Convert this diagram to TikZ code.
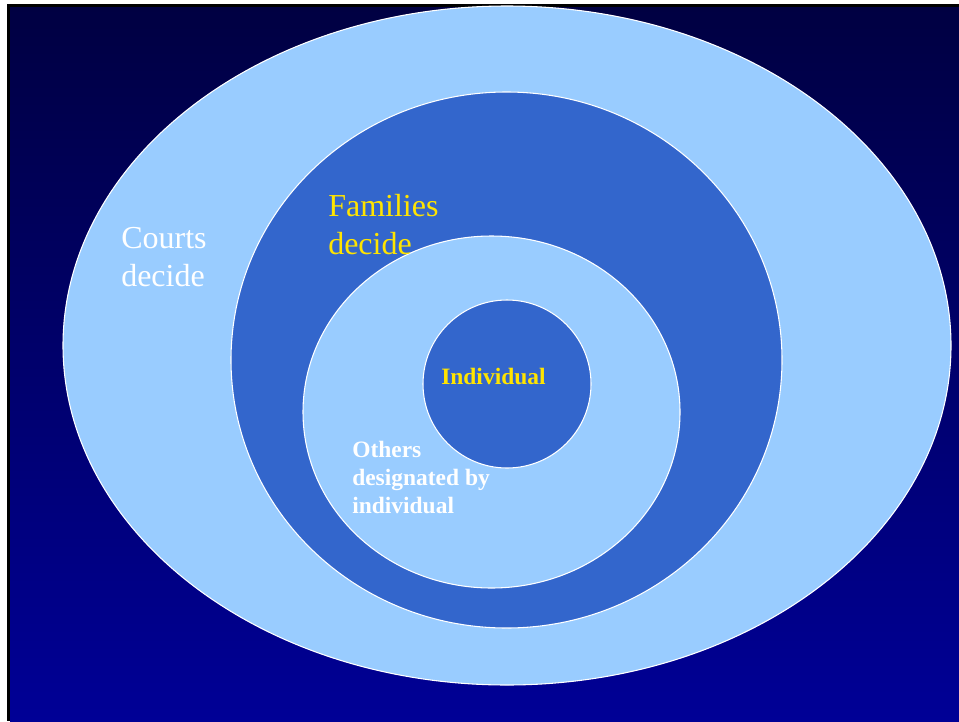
\documentclass[tikz,border=0pt]{standalone}
\usepackage{fontspec}
\setmainfont{Liberation Serif}
\definecolor{navytop}{RGB}{0,0,66}
\definecolor{navybot}{RGB}{0,0,150}
\definecolor{lightring}{RGB}{153,204,255}
\definecolor{darkring}{RGB}{51,102,204}
\definecolor{goldtext}{RGB}{255,228,0}
\tikzset{
  ring/.style={draw=white, line width=0.8pt},
  % multi-line labels: the base anchor sits on the last line's baseline
  biglabel/.style={anchor=base west, inner sep=0pt, align=left,
    font=\fontsize{24}{28.5}\selectfont},
  smalllabel/.style={anchor=base west, inner sep=0pt, align=left,
    font=\fontsize{17.6}{21}\selectfont\bfseries},
}
\begin{document}
\begin{tikzpicture}[x=0.75pt, y=-0.75pt]
  \useasboundingbox (0,0) rectangle (959,721);
  \fill[white] (0,0) rectangle (959,721);
  % frame and shaded backdrop
  \fill[black] (7,4) rectangle (959,721);
  \shade[top color=navytop, bottom color=navybot] (10,7) rectangle (959,721);
  % nested regions, outermost first
  \filldraw[ring, fill=lightring] (507,345.5) ellipse [x radius=444, y radius=339.5];
  \filldraw[ring, fill=darkring] (506.5,360) ellipse [x radius=275.5, y radius=268];
  \filldraw[ring, fill=lightring] (491.5,412) ellipse [x radius=188.5, y radius=176];
  \filldraw[ring, fill=darkring] (507,384) circle [radius=84];
  % labels
  \node[biglabel, text=white] (courts) at (121,286) {Courts\\decide};
  \node[biglabel, text=goldtext] (families) at (328,254) {Families\\decide};
  \node[smalllabel, text=goldtext] (indiv) at (441,384) {Individual};
  \node[smalllabel, text=white] (others) at (352,513) {Others\\designated by\\individual};
\end{tikzpicture}
\end{document}
